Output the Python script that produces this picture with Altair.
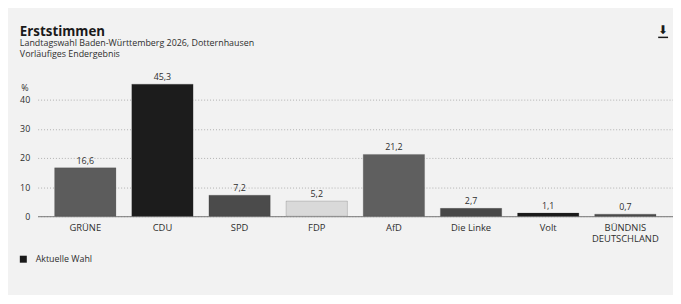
import altair as alt
import pandas as pd

parties = ["GRÜNE", "CDU", "SPD", "FDP", "AfD", "Die Linke", "Volt", "BÜNDNIS DEUTSCHLAND"]
values = [16.6, 45.3, 7.2, 5.2, 21.2, 2.7, 1.1, 0.7]
colors = ["#5c5c5c", "#1c1c1c", "#4b4b4b", "#d9d9d9", "#5f5f5f", "#484848", "#1a1a1a", "#4b4b4b"]
y_ticks = [0, 10, 20, 30, 40]
series_name = ["Aktuelle Wahl"]

FONT = "Open Sans"

df = pd.DataFrame({"partei": parties, "wert": values})

x_enc = alt.X(
    "partei:N",
    sort=parties,
    scale=alt.Scale(paddingInner=0.205, paddingOuter=0.22),
    axis=alt.Axis(
        title=None, labelAngle=0, labelFontSize=9.5, labelColor="#2e2e2e",
        labelPadding=6, ticks=False, domainColor="#777777", domainWidth=1,
        labelFont=FONT, labelOverlap=False,
        labelExpr="datum.label == 'BÜNDNIS DEUTSCHLAND' ? ['BÜNDNIS', 'DEUTSCHLAND'] : datum.label",
    ),
)

y_enc = alt.Y(
    "wert:Q",
    scale=alt.Scale(domain=[0, 40], nice=False),
    axis=alt.Axis(
        values=y_ticks, title="%", titleAngle=0, titleAlign="left",
        titleBaseline="alphabetic", titleX=-17, titleY=-9,
        titleFontWeight="normal", titleFontSize=9, titleColor="#2e2e2e", titleFont=FONT,
        labelFontSize=9, labelColor="#2e2e2e", labelPadding=8, labelFont=FONT,
        labelOverlap=False,
        ticks=False, domain=False, grid=True, gridDash=[1, 2],
        gridColor="#b0b0b0", gridWidth=1,
    ),
)

bars = alt.Chart(df).mark_bar(stroke="#3a3a3a", strokeWidth=0.4, strokeOpacity=0.5).encode(
    x=x_enc,
    y=y_enc,
    fill=alt.Fill("partei:N", scale=alt.Scale(domain=parties, range=colors), legend=None),
)

labels = alt.Chart(df).transform_calculate(
    txt="replace(format(datum.wert, '.1f'), '.', ',')"
).mark_text(dy=-7, fontSize=9, color="#2e2e2e", font=FONT).encode(
    x=x_enc,
    y=y_enc,
    text="txt:N",
)

legend_df = pd.DataFrame({"serie": series_name})
legend_layer = alt.Chart(legend_df).mark_square(size=0, opacity=1).encode(
    x=alt.value(0),
    y=alt.value(0),
    color=alt.Color(
        "serie:N",
        scale=alt.Scale(domain=series_name, range=["#1a1a1a"]),
        legend=alt.Legend(
            title=None, orient="none", legendX=-19, legendY=157,
            symbolType="square", symbolSize=50, symbolStrokeWidth=0,
            symbolFillColor="#1a1a1a", symbolOpacity=1,
            labelFontSize=9, labelColor="#2e2e2e", labelFont=FONT,
            labelOffset=8, padding=0,
        ),
    ),
)

icon = alt.Chart(pd.DataFrame({"i": ["⬇"]})).mark_text(
    fontSize=12, font="DejaVu Sans", color="#1a1a1a", baseline="alphabetic", align="center"
).encode(x=alt.value(633), y=alt.value(-66), text="i:N")

icon_bar = alt.Chart(pd.DataFrame({"i": [1]})).mark_rule(
    color="#1a1a1a", strokeWidth=1.5
).encode(x=alt.value(628), x2=alt.value(638), y=alt.value(-63))

chart = alt.layer(bars, labels, legend_layer, icon, icon_bar).properties(
    width=643,
    height=118,
    autosize=alt.AutoSizeParams(type="none"),
    padding={"left": 30, "top": 91, "right": 0, "bottom": 78},
    background="#f2f2f2",
    title=alt.TitleParams(
        text="Erststimmen",
        subtitle=["Landtagswahl Baden-Württemberg 2026, Dotternhausen", "Vorläufiges Endergebnis"],
        anchor="start", frame="group", dx=-18, offset=-35,
        fontSize=13.5, fontWeight="bold", color="#1a1a1a", font=FONT,
        subtitleFontSize=9, subtitleColor="#2e2e2e", subtitleFont=FONT,
        subtitlePadding=1, subtitleLineHeight=11,
    ),
).configure_view(stroke=None)

chart.save("out.html", embed_options={"renderer": "svg", "actions": False})
